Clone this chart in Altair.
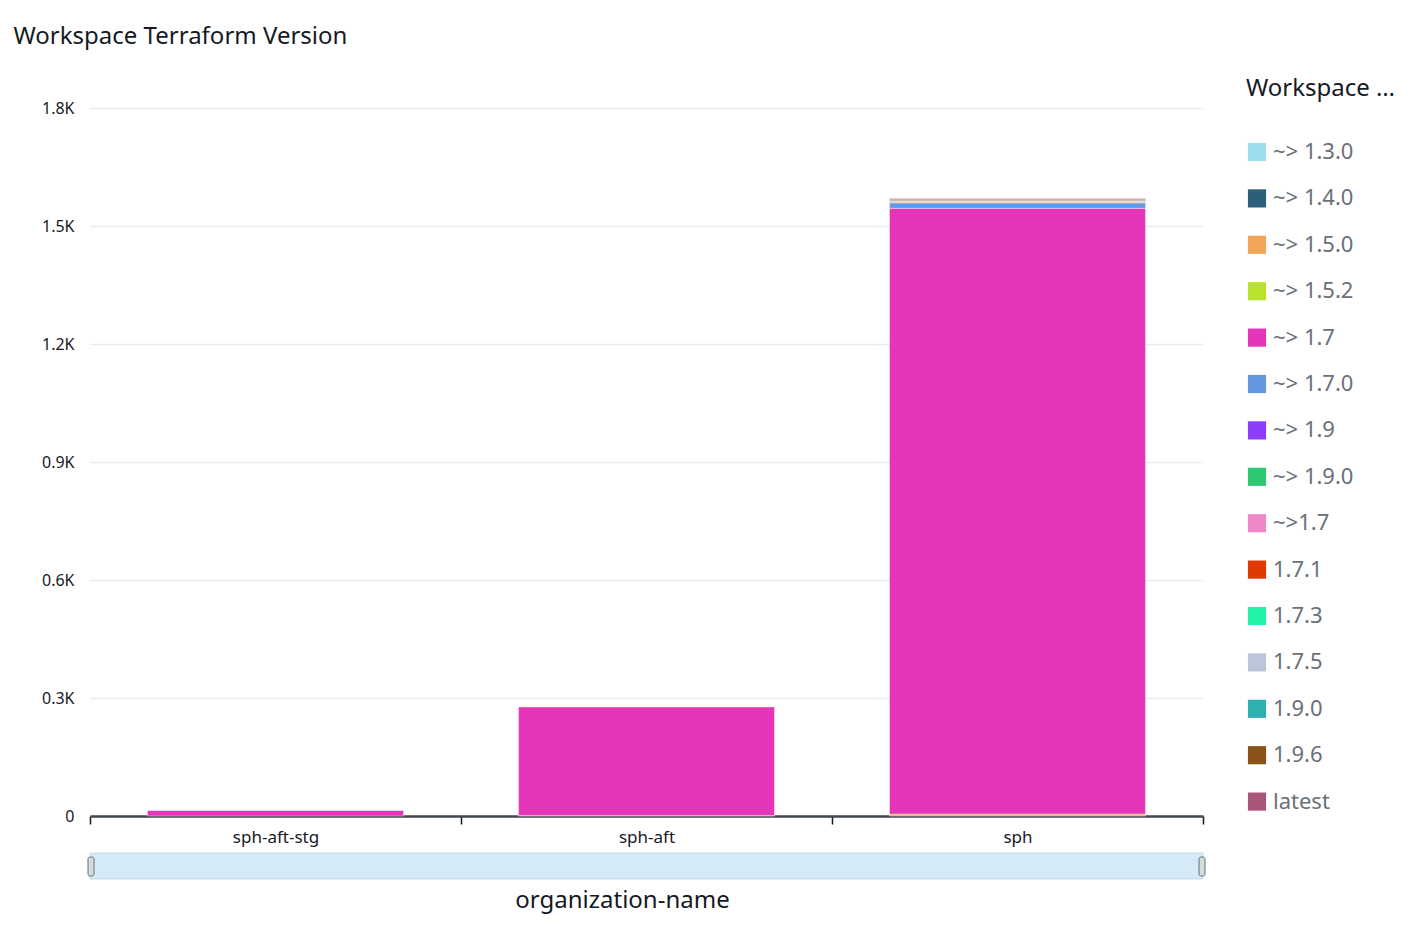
"""
Stacked bar of workspace terraform versions per organization
"""

import altair as alt
import pandas as pd

versions = ["~> 1.3.0", "~> 1.4.0", "~> 1.5.0", "~> 1.5.2", "~> 1.7", "~> 1.7.0",
            "~> 1.9", "~> 1.9.0", "~>1.7", "1.7.1", "1.7.3", "1.7.5", "1.9.0",
            "1.9.6", "latest"]
colors = ["#9ddcee", "#2b5f7a", "#f2a65a", "#b8e32a", "#e535b8", "#6497e0",
          "#8b3dfa", "#2ec872", "#f088c8", "#e03a00", "#22f2a8", "#bcc6da",
          "#2eafb0", "#8b5217", "#a8557a"]
orgs = ["sph-aft-stg", "sph-aft", "sph"]

# workspace counts (org, version, count)
org_col = ["sph-aft-stg", "sph-aft-stg",
           "sph-aft", "sph-aft",
           "sph", "sph", "sph", "sph", "sph", "sph", "sph", "sph", "sph"]
ver_col = ["~> 1.7", "~> 1.7.0",
           "~> 1.5.2", "~> 1.7",
           "~> 1.5.0", "~> 1.7", "~> 1.7.0", "~>1.7", "1.7.1", "1.7.5", "1.9.0", "1.9.6", "latest"]
count_col = [14, 1,
             1, 276,
             5, 1540, 14, 1, 1, 2, 2, 3, 2]

data = pd.DataFrame({"organization-name": org_col, "version": ver_col, "count": count_col})
data["rank"] = data["version"].map(versions.index)

W = 1113
H = 708
font = "Noto Sans"
dark = "#16191f"

bars = alt.Chart(data).mark_bar(
    width=alt.RelativeBandSize(0.69), stroke="white", strokeOpacity=0.4, strokeWidth=1
).encode(
    x=alt.X("organization-name:N", sort=orgs,
            scale=alt.Scale(paddingInner=0, paddingOuter=0),
            axis=alt.Axis(title="organization-name", labelAngle=0, labelFontSize=17,
                          labelColor=dark, labelFont=font, labelPadding=5,
                          tickBand="extent", tickColor=dark, tickSize=8, tickWidth=1.5,
                          domainColor="#414750", domainWidth=2.5,
                          titleFontSize=24, titleFontWeight="normal", titleColor=dark,
                          titleFont=font, titleX=532, titleY=84, titleAlign="center",
                          titleBaseline="middle")),
    y=alt.Y("sum(count):Q", stack="zero",
            scale=alt.Scale(domain=[0, 1800], nice=False),
            axis=alt.Axis(title=None, values=[0, 300, 600, 900, 1200, 1500, 1800],
                          labelExpr="datum.value == 0 ? '0' : format(datum.value / 1000, '.1f') + 'K'",
                          labelFontSize=16, labelColor=dark, labelFont=font, labelPadding=16,
                          domain=False, ticks=False, gridColor="#e9ebed", gridWidth=1.5)),
    color=alt.Color("version:N",
                    scale=alt.Scale(domain=versions, range=colors),
                    legend=alt.Legend(title="Workspace Terraform Version", titleLimit=150,
                                      titleFontSize=24, titleFontWeight="normal",
                                      titleColor=dark, titleFont=font, titlePadding=40,
                                      labelFontSize=22, labelColor="#687078", labelFont=font,
                                      symbolType="square", symbolSize=330, symbolStrokeWidth=0,
                                      rowPadding=24.4, labelOffset=5,
                                      orient="none", legendX=1156, legendY=-31)),
    order=alt.Order("rank:Q", sort="ascending"),
)

one = pd.DataFrame({"k": [0]})

slider = alt.Chart(one).mark_rect(color="#d5eaf7", stroke="#c2dcee", strokeWidth=1).encode(
    x=alt.value(0), x2=alt.value(W), y=alt.value(H + 37), y2=alt.value(H + 63)
)
handle_left = alt.Chart(one).mark_rect(color="#d5dbdb", stroke="#687078", strokeWidth=1,
                                       cornerRadius=2).encode(
    x=alt.value(-2), x2=alt.value(4), y=alt.value(H + 41), y2=alt.value(H + 60)
)
handle_right = alt.Chart(one).mark_rect(color="#d5dbdb", stroke="#687078", strokeWidth=1,
                                        cornerRadius=2).encode(
    x=alt.value(W - 4), x2=alt.value(W + 2), y=alt.value(H + 41), y2=alt.value(H + 60)
)

chart = alt.layer(bars, slider, handle_left, handle_right).properties(
    width=W, height=H,
    autosize=alt.AutoSizeParams(type="none"),
    padding={"left": 82, "top": 100, "right": 211, "bottom": 104},
    title=alt.TitleParams("Workspace Terraform Version", anchor="start", fontSize=24,
                          fontWeight="normal", color=dark, font=font, dx=-28, offset=28),
).configure_view(stroke=None)

chart.save("out.html", embed_options={"renderer": "svg", "actions": False})
